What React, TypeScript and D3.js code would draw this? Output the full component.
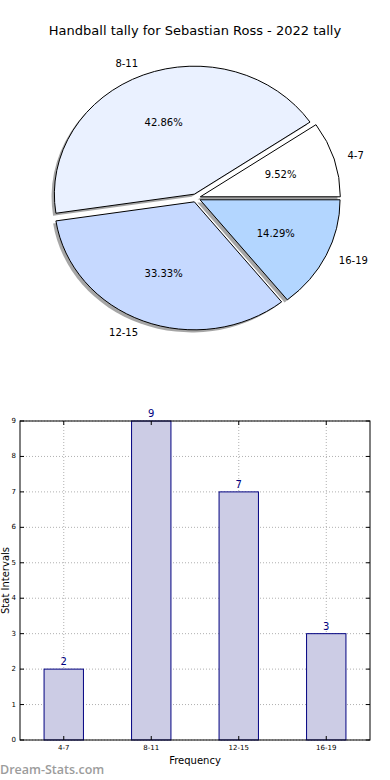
import React from 'react';
import * as d3 from 'd3';

const title = 'Handball tally for Sebastian Ross - 2022 tally';
const categories = ['4-7', '8-11', '12-15', '16-19'];
const counts = [2, 9, 7, 3];
const sliceColors = ['#ffffff', '#eaf1ff', '#c6d9ff', '#b3d6ff'];
const yTicks = [0, 1, 2, 3, 4, 5, 6, 7, 8, 9];
const xLabel = 'Frequency';
const yLabel = 'Stat Intervals';
const watermark = 'Dream-Stats.com';

const W = 390;
const H = 780;
const FONT = 'DejaVu Sans, sans-serif';

// pie geometry
const cx = 196;
const cy = 198;
const rx = 140;
const ry = 128;
const explode = 4.5;
const labelDist = 1.1;
const pctDist = 0.6;

// bar geometry
const bLeft = 20;
const bRight = 370;
const bTop = 421;
const bBottom = 740;

export default function App() {
  const total = d3.sum(counts);
  const pie = d3
    .pie<number>()
    .sort(null)
    .startAngle(Math.PI / 2)
    .endAngle(Math.PI / 2 - 2 * Math.PI);
  const arcs = pie(counts);
  const arcGen = d3.arc<any>().innerRadius(0).outerRadius(rx);
  const sy = ry / rx;

  const slices = arcs.map((a, i) => {
    const s = Math.min(a.startAngle, a.endAngle);
    const e = Math.max(a.startAngle, a.endAngle);
    const m = (s + e) / 2;
    const ox = explode * Math.sin(m);
    const oy = -explode * Math.cos(m) * sy;
    const path = arcGen({ startAngle: s, endAngle: e }) as string;
    const lx = cx + ox + labelDist * rx * Math.sin(m);
    const ly = cy + oy - labelDist * ry * Math.cos(m);
    const px = cx + ox + pctDist * rx * Math.sin(m);
    const py = cy + oy - pctDist * ry * Math.cos(m);
    return { i, path, ox, oy, lx, ly, px, py, pct: d3.format('.2f')((counts[i] / total) * 100) + '%' };
  });

  const x = d3.scaleLinear().domain([-0.5, 3.5]).range([bLeft, bRight]);
  const y = d3.scaleLinear().domain([0, 9]).range([bBottom, bTop]);
  const barW = x(0.45) - x(0);

  return (
    <svg
      width={W}
      height={H}
      style={{ position: 'absolute', left: 0, top: 0, background: '#fff' }}
      fontFamily={FONT}
    >
      <rect x={0} y={0} width={W} height={H} fill="#fff" />
      <text x={195} y={34.5} textAnchor="middle" fontSize={13} fill="#000">
        {title}
      </text>

      {/* shadows */}
      {slices.map((s) => (
        <g key={'sh' + s.i} transform={`translate(${cx + s.ox - 2.8},${cy + s.oy + 2.6}) scale(1,${sy})`}>
          <path d={s.path} fill="#4d4d4d" fillOpacity={0.5} stroke="none" />
        </g>
      ))}
      {/* wedges */}
      {slices.map((s) => (
        <g key={'w' + s.i} transform={`translate(${cx + s.ox},${cy + s.oy}) scale(1,${sy})`}>
          <path
            d={s.path}
            fill={sliceColors[s.i]}
            stroke="#000"
            strokeWidth={1}
            vectorEffect="non-scaling-stroke"
            strokeLinejoin="miter"
          />
        </g>
      ))}
      {slices.map((s) => (
        <text
          key={'l' + s.i}
          x={s.lx}
          y={s.ly}
          textAnchor={s.lx < cx ? 'end' : 'start'}
          dominantBaseline="central"
          fontSize={10}
          fill="#000"
        >
          {categories[s.i]}
        </text>
      ))}
      {slices.map((s) => (
        <text
          key={'p' + s.i}
          x={s.px}
          y={s.py}
          textAnchor="middle"
          dominantBaseline="central"
          fontSize={10}
          fill="#000"
        >
          {s.pct}
        </text>
      ))}

      {/* bar chart */}
      <g>
        {yTicks.map((t) => (
          <line
            key={'gy' + t}
            x1={bLeft}
            x2={bRight}
            y1={y(t)}
            y2={y(t)}
            stroke="#b0b0b0"
            strokeWidth={1}
            strokeDasharray="1,2"
          />
        ))}
        {categories.map((c, i) => (
          <line
            key={'gx' + c}
            x1={x(i)}
            x2={x(i)}
            y1={bTop}
            y2={bBottom}
            stroke="#b0b0b0"
            strokeWidth={1}
            strokeDasharray="1,2"
          />
        ))}
        {counts.map((v, i) => (
          <rect
            key={'b' + i}
            x={x(i) - barW / 2}
            y={y(v)}
            width={barW}
            height={y(0) - y(v)}
            fill="#ccccE5"
            stroke="#000080"
            strokeWidth={1}
          />
        ))}
        {counts.map((v, i) => (
          <text
            key={'v' + i}
            x={x(i)}
            y={y(v) - 4}
            textAnchor="middle"
            fontSize={10}
            fill="#000080"
          >
            {v}
          </text>
        ))}
        <rect x={bLeft} y={bTop} width={bRight - bLeft} height={bBottom - bTop} fill="none" stroke="#000" strokeWidth={1} />
        {yTicks.map((t) => (
          <g key={'ty' + t}>
            <line x1={bLeft} x2={bLeft + 4} y1={y(t)} y2={y(t)} stroke="#000" />
            <line x1={bRight - 4} x2={bRight} y1={y(t)} y2={y(t)} stroke="#000" />
            <text x={bLeft - 4} y={y(t)} textAnchor="end" dominantBaseline="central" fontSize={7} fill="#000">
              {t}
            </text>
          </g>
        ))}
        {categories.map((c, i) => (
          <g key={'tx' + c}>
            <line x1={x(i)} x2={x(i)} y1={bBottom} y2={bBottom - 4} stroke="#000" />
            <line x1={x(i)} x2={x(i)} y1={bTop} y2={bTop + 4} stroke="#000" />
            <text x={x(i)} y={bBottom + 10} textAnchor="middle" fontSize={7} fill="#000">
              {c}
            </text>
          </g>
        ))}
        <text x={(bLeft + bRight) / 2} y={764} textAnchor="middle" fontSize={10} fill="#000">
          {xLabel}
        </text>
        <text
          transform={`translate(8.5,${(bTop + bBottom) / 2}) rotate(-90)`}
          textAnchor="middle"
          fontSize={10}
          fill="#000"
        >
          {yLabel}
        </text>
      </g>

      <text
        x={0}
        y={773.5}
        fontSize={12.5}
        fontWeight={600}
        fontFamily="'Open Sans', 'DejaVu Sans', sans-serif"
        fill="#9c9c9c"
      >
        {watermark}
      </text>
    </svg>
  );
}
